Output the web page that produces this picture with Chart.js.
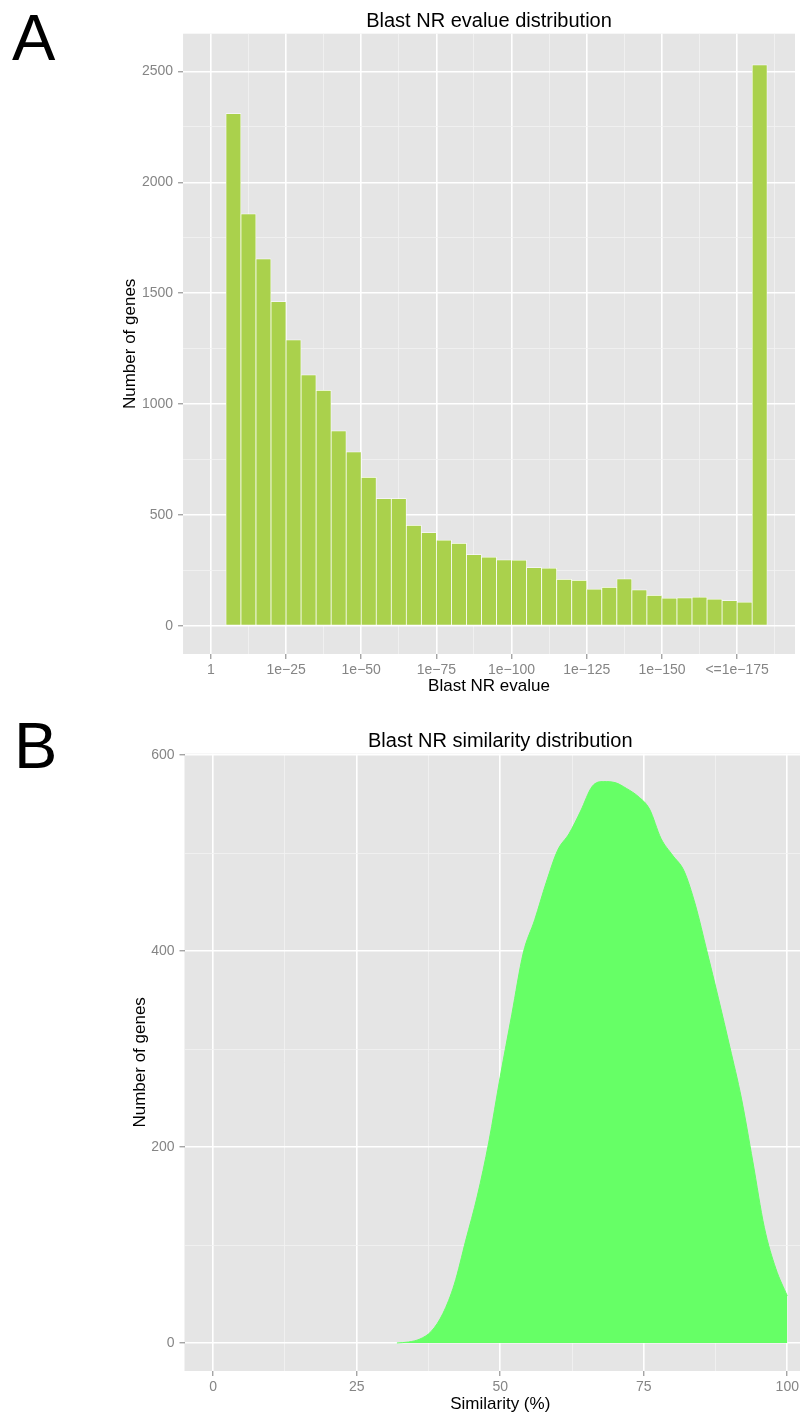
<!DOCTYPE html>
<html>
<head>
<meta charset="utf-8">
<script src="https://cdn.jsdelivr.net/npm/chart.js@4.4.1/dist/chart.umd.min.js"></script>
<style>
  html, body { margin: 0; padding: 0; background: #fff; }
  body { width: 800px; height: 1416px; position: relative; overflow: hidden;
         font-family: "Liberation Sans", Arial, Helvetica, sans-serif; }
  .panel-letter { position: absolute; font-size: 65px; line-height: 1; color: #000; }
  #boxA { position: absolute; left: 0; top: 0; width: 800px; height: 700px; }
  #boxB { position: absolute; left: 0; top: 706px; width: 820px; height: 710px; }
</style>
</head>
<body>
<div class="panel-letter" style="left:12px; top:5px;">A</div>
<div class="panel-letter" style="left:14px; top:713px;">B</div>
<div id="boxA"><canvas id="chartA"></canvas></div>
<div id="boxB"><canvas id="chartB"></canvas></div>
<script>
Chart.defaults.font.family = "'Liberation Sans', Arial, Helvetica, sans-serif";
Chart.defaults.animation = false;

// A: blast evalue histogram (bins are 5 exponent units wide)
const binCenters = [
  7.5, 12.5, 17.5, 22.5, 27.5, 32.5, 37.5, 42.5, 47.5, 52.5, 57.5, 62.5,
  67.5, 72.5, 77.5, 82.5, 87.5, 92.5, 97.5, 102.5, 107.5, 112.5, 117.5, 122.5,
  127.5, 132.5, 137.5, 142.5, 147.5, 152.5, 157.5, 162.5, 167.5, 172.5, 177.5, 182.5,
];
const geneCounts = [
  2310, 1858, 1655, 1462, 1290, 1132, 1062, 880, 785, 670, 575, 574,
  454, 421, 387, 373, 322, 311, 298, 297, 263, 261, 211, 206,
  167, 174, 213, 163, 139, 126, 127, 131, 121, 115, 108, 2530,
];
const evalueTicks = [0, 25, 50, 75, 100, 125, 150, 175];
const evalueLabels = ["1", "1e−25", "1e−50", "1e−75", "1e−100", "1e−125", "1e−150", "<=1e−175"];
const evalueMinor = [12.5, 37.5, 62.5, 87.5, 112.5, 137.5, 162.5, 187.5];
const countTicks = [0, 500, 1000, 1500, 2000, 2500];
const countMinor = [250, 750, 1250, 1750, 2250];

// B: similarity density
const simX = [
  32, 34, 36, 38, 40, 42, 44, 46, 48, 50, 52, 54, 56, 58, 60, 62, 64, 66,
  68, 70, 72, 74, 76, 78, 80, 82, 84, 86, 88, 90, 92, 94, 96, 98, 100,
];
const simDensity = [
  0, 1, 4, 12, 30, 60, 105, 150, 205, 272, 335, 398, 432, 470, 503, 520, 543, 568,
  573, 572, 566, 558, 545, 515, 498, 482, 447, 400, 352, 302, 250, 185, 118, 76, 48,
];
const simTicks = [0, 25, 50, 75, 100];
const simMinor = [12.5, 37.5, 62.5, 87.5];
const densTicks = [0, 200, 400, 600];
const densMinor = [100, 300, 500];

const panelBackground = {
  id: "panelBackground",
  beforeDraw(chart) {
    const { ctx, chartArea } = chart;
    ctx.save();
    ctx.fillStyle = "#E5E5E5";
    ctx.fillRect(chartArea.left, chartArea.top,
      chartArea.right - chartArea.left, chartArea.bottom - chartArea.top);
    ctx.restore();
  },
};

function gridStyle(majors) {
  const isMajor = (c) => c.tick && majors.includes(c.tick.value);
  return {
    offset: false,
    color: (c) => (isMajor(c) ? "#FFFFFF" : "#F3F3F3"),
    lineWidth: (c) => (isMajor(c) ? 1.6 : 0.8),
    tickColor: (c) => (isMajor(c) ? "#7F7F7F" : "rgba(0,0,0,0)"),
    tickWidth: 1,
    tickLength: 5,
  };
}

function setTicks(values) {
  return (scale) => {
    scale.ticks = values.slice().sort((a, b) => a - b).map((v) => ({ value: v }));
  };
}

const tickFont = { size: 14 };
const tickColor = "#858585";

new Chart(document.getElementById("chartA"), {
  type: "bar",
  data: {
    datasets: [
      {
        data: binCenters.map((x, i) => ({ x: x, y: geneCounts[i] })),
        backgroundColor: "#AAD14C",
        borderColor: "#FFFFFF",
        borderWidth: 0.75,
        borderSkipped: false,
        barPercentage: 1,
        categoryPercentage: 1,
      },
    ],
  },
  options: {
    responsive: true,
    maintainAspectRatio: false,
    devicePixelRatio: 1,
    layout: { padding: { left: 0, right: 5, top: 0, bottom: 0 } },
    plugins: {
      legend: { display: false },
      tooltip: { enabled: false },
      title: {
        display: true,
        text: "Blast NR evalue distribution",
        color: "#000",
        font: { size: 20, weight: "normal" },
        padding: { top: 9.5, bottom: 0.2 },
        fullSize: false,
      },
    },
    scales: {
      x: {
        type: "linear",
        min: -9.25,
        max: 194.25,
        offset: false,
        afterBuildTicks: setTicks(evalueTicks.concat(evalueMinor)),
        grid: gridStyle(evalueTicks),
        border: { display: false },
        ticks: {
          autoSkip: false,
          maxRotation: 0,
          padding: 3,
          font: tickFont,
          color: tickColor,
          callback: (v) => {
            const i = evalueTicks.indexOf(v);
            return i >= 0 ? evalueLabels[i] : "";
          },
        },
        title: {
          display: true,
          text: "Blast NR evalue",
          color: "#000",
          font: { size: 17 },
          padding: { top: -5.3, bottom: 3.1 },
        },
      },
      y: {
        min: -126,
        max: 2670,
        afterBuildTicks: setTicks(countTicks.concat(countMinor)),
        grid: gridStyle(countTicks),
        border: { display: false },
        ticks: {
          autoSkip: false,
          padding: 5,
          font: tickFont,
          color: tickColor,
          callback: (v) => (countTicks.includes(v) ? String(v) : ""),
        },
        title: {
          display: true,
          text: "Number of genes",
          color: "#000",
          font: { size: 17 },
          padding: { top: 119.8, bottom: -3.3 },
        },
      },
    },
  },
  plugins: [panelBackground],
});

new Chart(document.getElementById("chartB"), {
  type: "line",
  data: {
    datasets: [
      {
        data: simX.map((x, i) => ({ x: x, y: simDensity[i] })),
        fill: "origin",
        backgroundColor: "#66FF66",
        borderColor: "#66FF66",
        borderWidth: 1,
        pointRadius: 0,
        cubicInterpolationMode: "monotone",
      },
    ],
  },
  options: {
    responsive: true,
    maintainAspectRatio: false,
    devicePixelRatio: 1,
    layout: { padding: { left: 0, right: 4, top: 0, bottom: 0 } },
    plugins: {
      legend: { display: false },
      tooltip: { enabled: false },
      title: {
        display: true,
        text: "Blast NR similarity distribution",
        color: "#000",
        font: { size: 20, weight: "normal" },
        padding: { top: 23.5, bottom: 0.2 },
        fullSize: false,
      },
    },
    scales: {
      x: {
        type: "linear",
        min: -5,
        max: 105,
        afterBuildTicks: setTicks(simTicks.concat(simMinor)),
        grid: gridStyle(simTicks),
        border: { display: false },
        ticks: {
          autoSkip: false,
          maxRotation: 0,
          padding: 3,
          font: tickFont,
          color: tickColor,
          callback: (v) => (simTicks.includes(v) ? String(v) : ""),
        },
        title: {
          display: true,
          text: "Similarity (%)",
          color: "#000",
          font: { size: 17 },
          padding: { top: -5.0, bottom: 1.8 },
        },
      },
      y: {
        min: -28.6,
        max: 601.5,
        afterBuildTicks: setTicks(densTicks.concat(densMinor)),
        grid: gridStyle(densTicks),
        border: { display: false },
        ticks: {
          autoSkip: false,
          padding: 5,
          font: tickFont,
          color: tickColor,
          callback: (v) => (densTicks.includes(v) ? String(v) : ""),
        },
        title: {
          display: true,
          text: "Number of genes",
          color: "#000",
          font: { size: 17 },
          padding: { top: 129.8, bottom: -4.05 },
        },
      },
    },
  },
  plugins: [panelBackground],
});
</script>
</body>
</html>
